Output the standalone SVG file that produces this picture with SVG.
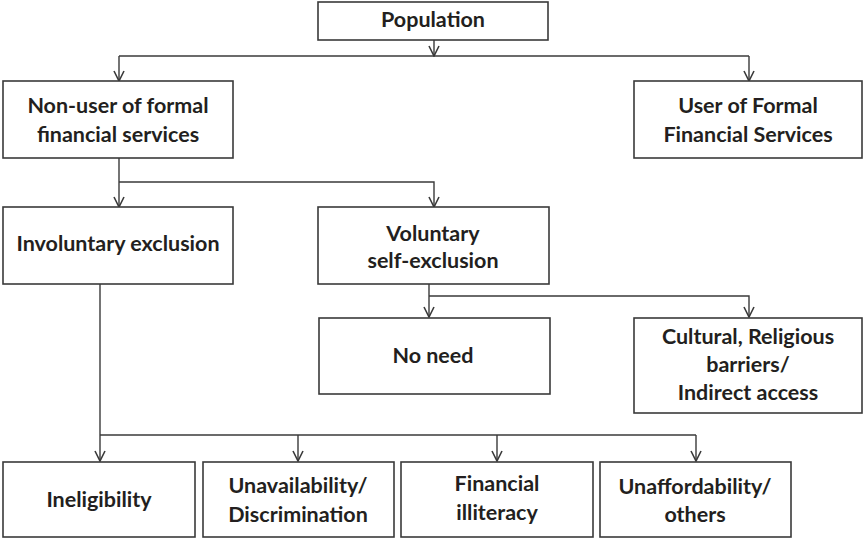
<svg xmlns="http://www.w3.org/2000/svg" width="864" height="538" viewBox="0 0 864 538">
<defs>
<style>
.box{fill:#fff;stroke:#3a3a3a;stroke-width:1.6}
.t{font-family:Lato,"Open Sans","Liberation Sans",sans-serif;font-weight:bold;font-size:21.5px;fill:#231f20;text-anchor:middle}
.c{fill:none;stroke:#3a3a3a;stroke-width:1.4}
</style>
<marker id="ah" viewBox="0 0 12 12" refX="11" refY="6" markerWidth="12" markerHeight="12" markerUnits="userSpaceOnUse" orient="auto">
<path d="M1,1 L11,6 L1,11" fill="none" stroke="#3a3a3a" stroke-width="1.6"/>
</marker>
</defs>
<rect width="864" height="538" fill="#fff"/>
<g id="connectors">
<path class="c" d="M434,40 V56" marker-end="url(#ah)"/>
<path class="c" d="M119,56 H749"/>
<path class="c" d="M119,56 V81" marker-end="url(#ah)"/>
<path class="c" d="M749,56 V81" marker-end="url(#ah)"/>
<path class="c" d="M119,158 V207" marker-end="url(#ah)"/>
<path class="c" d="M119,182 H434 V207" marker-end="url(#ah)"/>
<path class="c" d="M429,284 V317" marker-end="url(#ah)"/>
<path class="c" d="M429,296 H749 V317" marker-end="url(#ah)"/>
<path class="c" d="M100,284 V461" marker-end="url(#ah)"/>
<path class="c" d="M100,435 H696"/>
<path class="c" d="M298,435 V461" marker-end="url(#ah)"/>
<path class="c" d="M497,435 V461" marker-end="url(#ah)"/>
<path class="c" d="M696,435 V461" marker-end="url(#ah)"/>
</g>
<g id="population"><rect class="box" x="318" y="2" width="230" height="38"/><text class="t" x="433" y="27">Population</text></g>
<g id="nonuser"><rect class="box" x="3" y="81" width="230" height="77"/><text class="t" x="118" y="113">Non-user of formal</text><text class="t" x="118" y="142">financial services</text></g>
<g id="user"><rect class="box" x="634" y="81" width="228" height="77"/><text class="t" x="748" y="113">User of Formal</text><text class="t" x="748" y="142">Financial Services</text></g>
<g id="involuntary"><rect class="box" x="3" y="207" width="230" height="77"/><text class="t" x="118" y="251">Involuntary exclusion</text></g>
<g id="voluntary"><rect class="box" x="318" y="207" width="231" height="77"/><text class="t" x="433" y="241">Voluntary</text><text class="t" x="433" y="268">self-exclusion</text></g>
<g id="noneed"><rect class="box" x="319" y="318" width="231" height="76"/><text class="t" x="433" y="363">No need</text></g>
<g id="cultural"><rect class="box" x="634" y="318" width="228" height="95"/><text class="t" x="748" y="344">Cultural, Religious</text><text class="t" x="748" y="372">barriers/</text><text class="t" x="748" y="400">Indirect access</text></g>
<g id="ineligibility"><rect class="box" x="3" y="462" width="192" height="75"/><text class="t" x="99" y="507">Ineligibility</text></g>
<g id="unavailability"><rect class="box" x="203" y="462" width="191" height="75"/><text class="t" x="298" y="493">Unavailability/</text><text class="t" x="298" y="522">Discrimination</text></g>
<g id="illiteracy"><rect class="box" x="401" y="462" width="192" height="75"/><text class="t" x="497" y="491">Financial</text><text class="t" x="497" y="520">illiteracy</text></g>
<g id="unaffordability"><rect class="box" x="600" y="462" width="191" height="75"/><text class="t" x="695" y="494">Unaffordability/</text><text class="t" x="695" y="522">others</text></g>
</svg>
